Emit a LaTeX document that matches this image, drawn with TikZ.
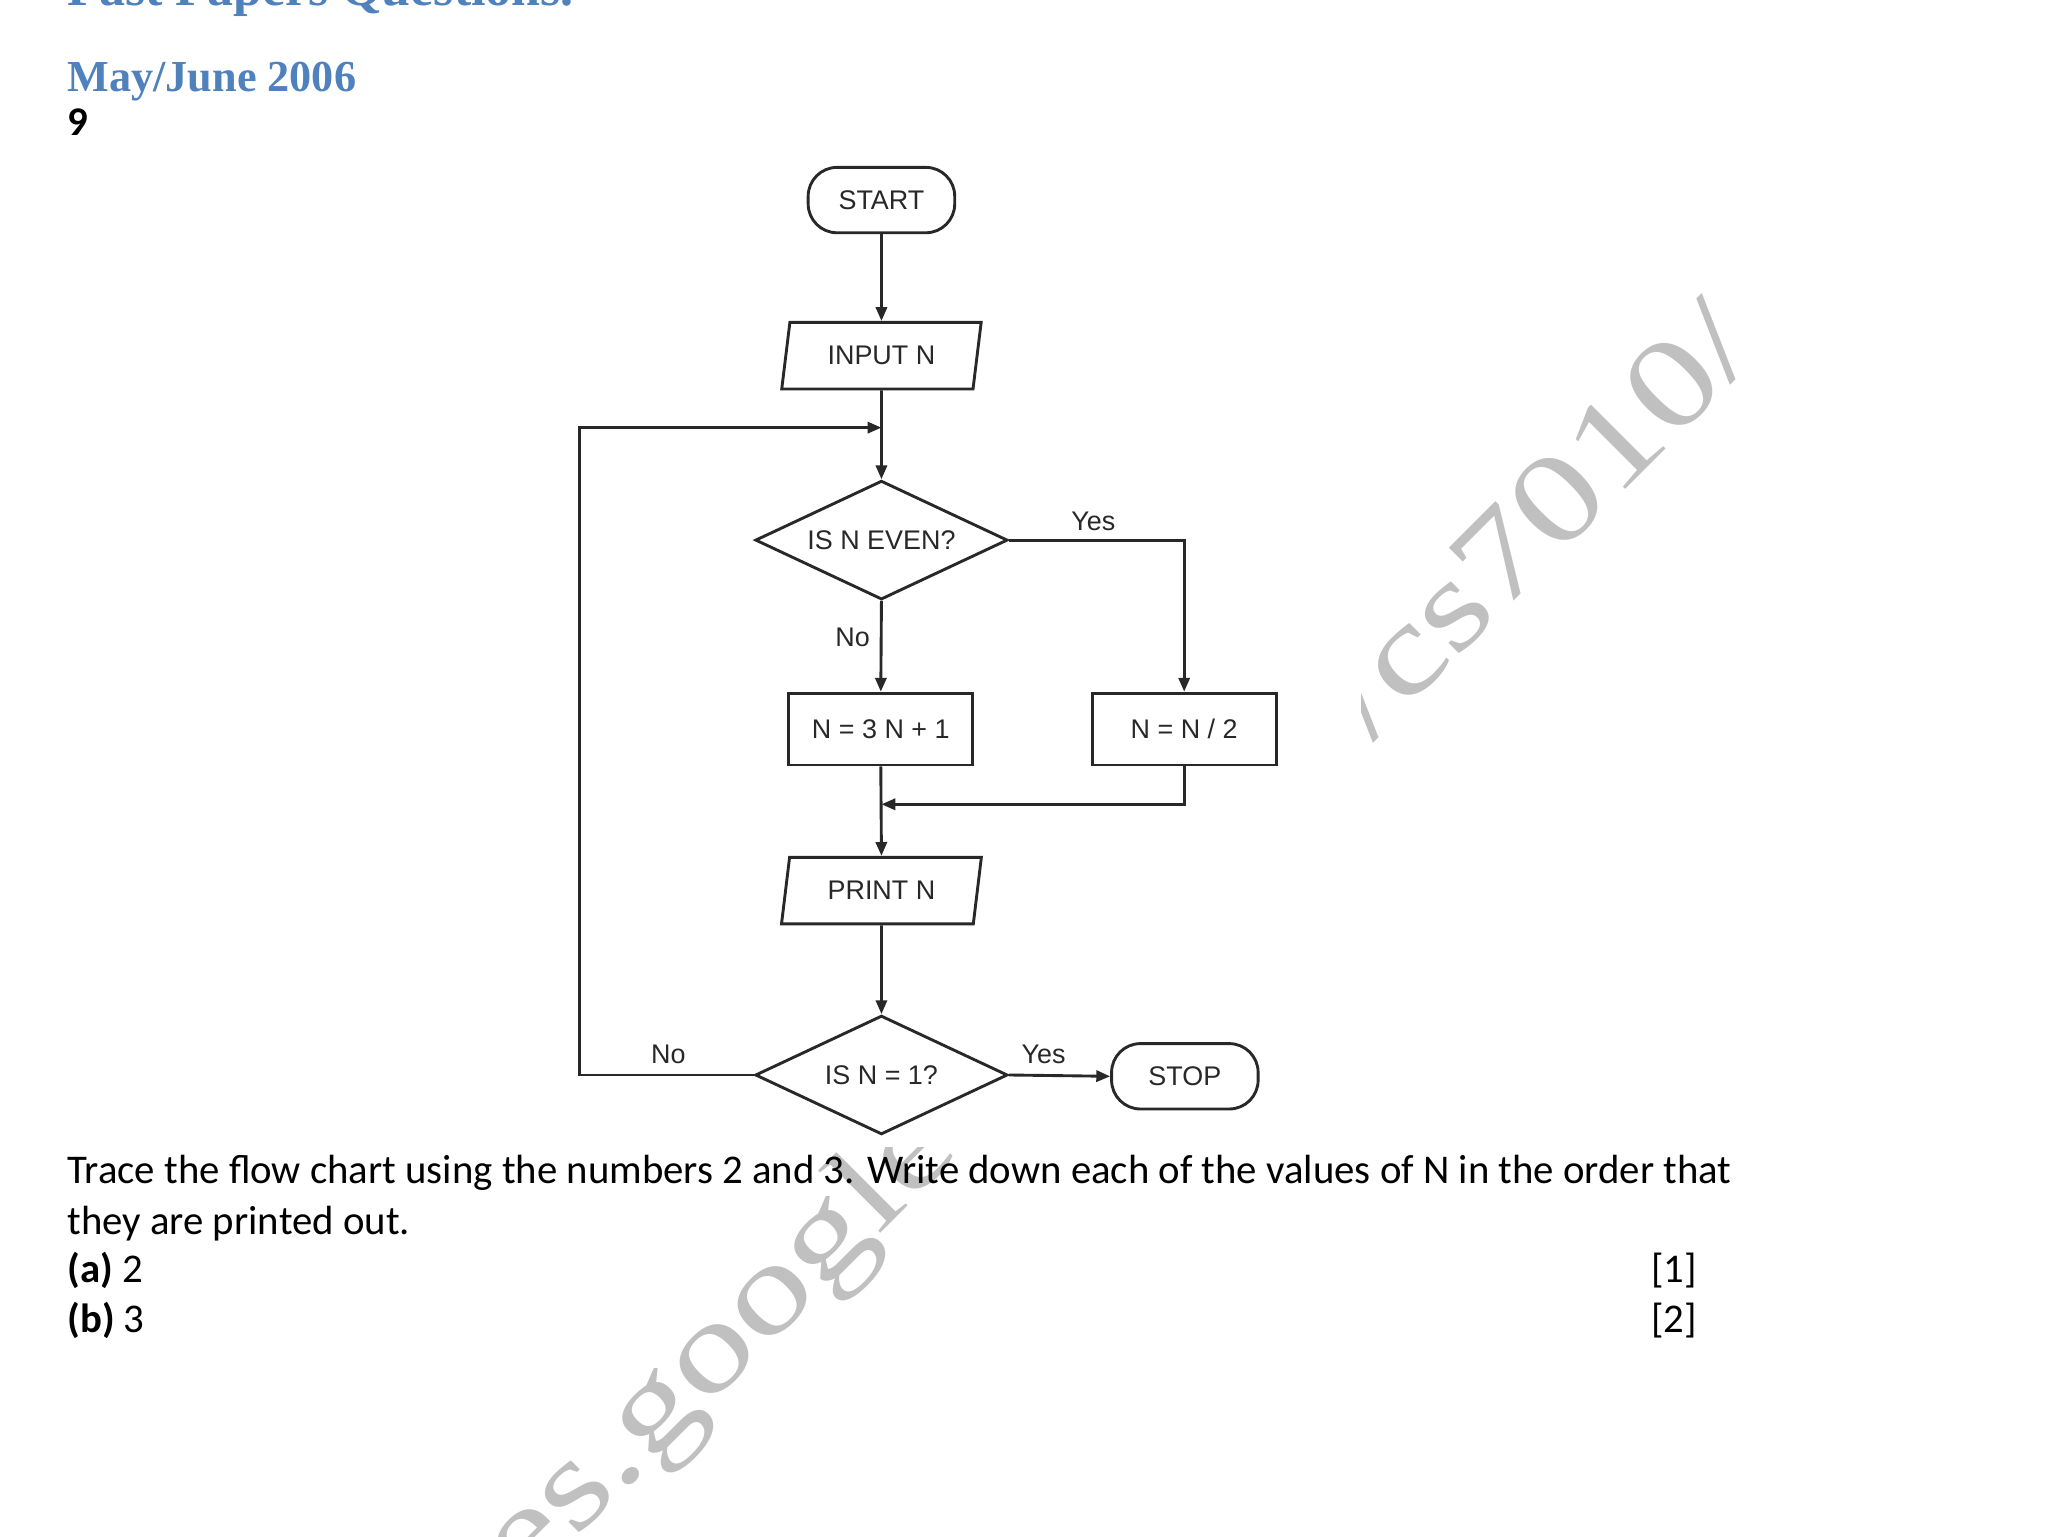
\documentclass[tikz,border=0pt]{standalone}
\usepackage{fontspec}
\setmainfont{Carlito}
\newfontfamily\headfont{Liberation Serif}
\newfontfamily\chartfont{Liberation Sans}
\usetikzlibrary{shapes.geometric,arrows.meta}
\definecolor{headblue}{RGB}{79,129,189}
\definecolor{wmgray}{RGB}{192,192,192}
\definecolor{ink}{RGB}{40,40,40}
\tikzset{
  chart/.style={draw=ink,line width=0.75pt,font=\chartfont\fontsize{7}{8}\selectfont,text=ink,inner sep=0pt},
  terminal/.style={chart,rectangle,rounded corners=7.5pt,minimum width=38.1pt,minimum height=17pt},
  iobox/.style={chart,trapezium,trapezium left angle=75.7,trapezium right angle=104.3,trapezium stretches=true,minimum width=52pt,minimum height=17.3pt},
  decision/.style={chart,diamond,aspect=2.1,minimum width=65.6pt,minimum height=30.9pt},
  process/.style={chart,rectangle,minimum width=47.9pt,minimum height=18.7pt},
  flow/.style={draw=ink,line width=0.75pt,-{Triangle[length=3.6pt,width=2.9pt]}},
  branch/.style={font=\chartfont\fontsize{7}{8}\selectfont,text=ink,inner sep=0pt},
  wmark/.style={font=\headfont\fontsize{33}{33}\selectfont,text=wmgray,inner sep=0pt,rotate=45,xscale=1.28},
  body/.style={font=\fontsize{10.6}{13}\selectfont,inner sep=0pt,anchor=base west}
}
\begin{document}
\begin{tikzpicture}[x=0.34pt,y=0.34pt,yscale=-1,xscale=1]
\useasboundingbox (0,0) rectangle (1566,1175);

% Watermark
\node[wmark,anchor=base east] (wmgoogle) at (736,881) {es.google};
\node[wmark,anchor=base west] (wmsite) at (1049,568) {/cs7010/};
%Shape: backing of the chart
\fill[white] (430,112) rectangle (1041,877);

% Text Node
\node[anchor=base west,inner sep=0pt,text=headblue,font=\headfont\bfseries\fontsize{13.5}{16}\selectfont] (paper) at (51,4) {Past Papers Questions.};
\node[anchor=base west,inner sep=0pt,text=headblue,font=\headfont\bfseries\fontsize{11.5}{14}\selectfont] (session) at (51,70) {May/June 2006};
\node[body,font=\bfseries\fontsize{10.6}{13}\selectfont] (qnum) at (51,104) {9};

%Shape: chart boxes
\node[terminal] (start) at (674,153) {START};
\node[iobox] (input) at (674,272) {INPUT N};
\node[decision] (even) at (674,413) {IS N EVEN?};
\node[process] (triple) at (673.5,557.5) {N = 3 N + 1};
\node[process] (half) at (905.5,557.5) {N = N / 2};
\node[iobox] (print) at (674,681) {PRINT N};
\node[decision] (one) at (674,822) {IS N = 1?};
\node[terminal] (stop) at (906,823) {STOP};

\coordinate (loopin) at (674,327);
\coordinate (merge) at (674,615);

%Straight Lines
\draw[flow] (start) -- (input);
\draw[flow] (input) -- (even);
\draw[flow] (even.east) -| (half.north);
\draw[flow] (even.south) -- (triple.north);
\draw[flow] (half.south) |- (merge);
\draw[flow] (triple.south) -- (print.north);
\draw[flow] (print.south) -- (one.north);
\draw[flow] (one.east) -- (stop.west);
\draw[flow] (one.west) -- (443,822) -- (443,327) -- (loopin);

% Text Node
\node[branch] (yeseven) at (836,399) {Yes};
\node[branch] (noeven) at (652,487) {No};
\node[branch] (noone) at (511,806) {No};
\node[branch] (yesone) at (798,806) {Yes};

% Text Node
\node[body] (line1) at (51,905) {Trace the flow chart using the numbers 2 and 3. Write down each of the values of N in the order that};
\node[body] (line2) at (51,944) {they are printed out.};
\node[body] (parta) at (51,981) {\textbf{(a)} 2};
\node[body] (partb) at (51,1019) {\textbf{(b)} 3};
\node[body,anchor=base east] (marka) at (1298,981) {[1]};
\node[body,anchor=base east] (markb) at (1298,1019) {[2]};
\end{tikzpicture}
\end{document}
